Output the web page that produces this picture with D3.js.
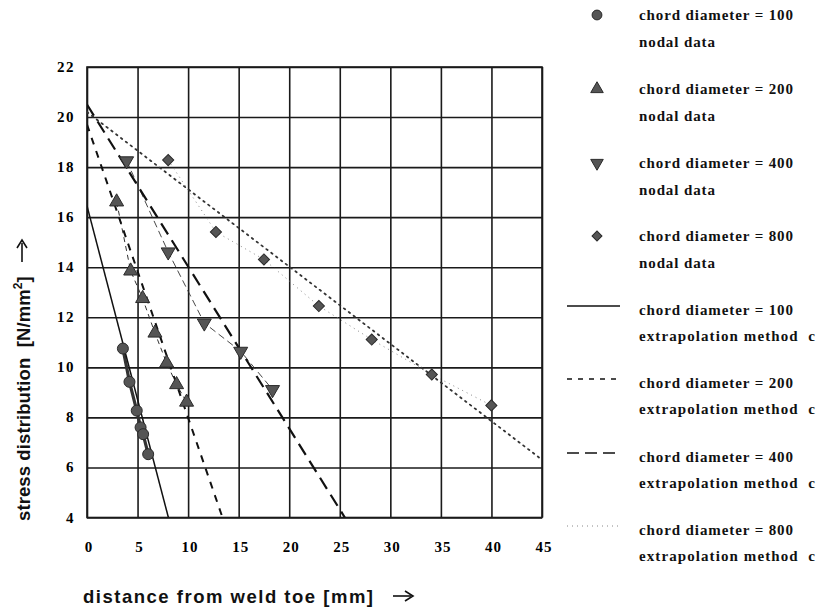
<!DOCTYPE html>
<html><head><meta charset="utf-8">
<script src="https://cdn.jsdelivr.net/npm/d3@7"></script>
<style>
html,body{margin:0;padding:0;background:#fff;}
svg{display:block;}
</style></head>
<body>
<svg id="chart" width="818" height="611"></svg>
<script>
// ---------- data ----------
const xTicks = [0,5,10,15,20,25,30,35,40,45];
const yTicks = [4,6,8,10,12,14,16,18,20,22];

const series = ["chord diameter = 100","chord diameter = 200","chord diameter = 400","chord diameter = 800"];

const nodal100 = [[3.55,10.75],[4.2,9.42],[4.92,8.27],[5.3,7.6],[5.55,7.33],[6.05,6.53]];
const nodal200 = [[2.93,16.61],[4.32,13.85],[5.5,12.75],[6.72,11.37],[7.88,10.17],[8.86,9.31],[9.85,8.61]];
const nodal400 = [[3.92,18.25],[8.03,14.61],[11.6,11.77],[15.2,10.64],[18.35,9.11]];
const nodal800 = [[8.03,18.28],[12.75,15.41],[17.5,14.31],[22.93,12.45],[28.16,11.11],[34.1,9.71],[39.99,8.48]];

const extrap100 = [[0,16.45],[8.05,4]];
const extrap200 = [[0,19.7],[13.4,4]];
const extrap400 = [[0,20.5],[25.5,4]];
const extrap800 = [[0,20.2],[44.7,6.4]];

const legendNodal = ["nodal data","nodal data","nodal data","nodal data"];
const legendExtrap = ["extrapolation method  c","extrapolation method  c","extrapolation method  c","extrapolation method  c"];

// ---------- setup ----------
const svg = d3.select("#chart");
const x = d3.scaleLinear().domain([0,45]).range([87,542]);
const y = d3.scaleLinear().domain([4,22]).range([517.5,67]);

const serif = "'Liberation Serif','Times New Roman',serif";
const sans = "'Liberation Sans',Arial,sans-serif";

// grid
svg.append("g").attr("transform","translate(0,517.5)")
  .call(d3.axisBottom(x).tickValues(xTicks).tickSize(-450.5).tickFormat(""));
svg.append("g").attr("transform","translate(87,0)")
  .call(d3.axisLeft(y).tickValues(yTicks).tickSize(-455).tickFormat(""));
svg.selectAll(".domain").remove();
svg.selectAll(".tick line").attr("stroke","#1a1a1a").attr("stroke-width",1.6);
svg.append("rect").attr("x",x(0)).attr("y",y(22)).attr("width",x(45)-x(0)).attr("height",y(4)-y(22))
  .attr("fill","none").attr("stroke","#1a1a1a").attr("stroke-width",1.6);

// tick labels
svg.append("g").selectAll("text").data(xTicks).join("text")
  .attr("x",d=>x(d)+2).attr("y",552).attr("text-anchor","middle")
  .attr("font-family",serif).attr("font-weight","bold").attr("font-size",15)
  .attr("letter-spacing",1).text(d=>d);
svg.append("g").selectAll("text").data(yTicks).join("text")
  .attr("x",75).attr("y",d=>y(d)+5).attr("text-anchor","end")
  .attr("font-family",serif).attr("font-weight","bold").attr("font-size",15)
  .attr("letter-spacing",1.5).text(d=>d);

// axis titles
svg.append("text").attr("x",83).attr("y",603).attr("font-family",sans).attr("font-weight","bold")
  .attr("font-size",18.5).attr("fill","#111").attr("textLength",290).attr("lengthAdjust","spacing")
  .text("distance from weld toe [mm]");
// x arrow
svg.append("line").attr("x1",393).attr("x2",411).attr("y1",596).attr("y2",596).attr("stroke","#111").attr("stroke-width",1.6);
svg.append("path").attr("d","M405,591 L413,596 L405,601").attr("fill","none").attr("stroke","#111").attr("stroke-width",1.6);

const yt = svg.append("text").attr("transform","translate(30,521) rotate(-90)")
  .attr("font-family",sans).attr("font-weight","bold").attr("font-size",18.5).attr("fill","#111")
  .attr("letter-spacing",0.1).attr("xml:space","preserve");
yt.append("tspan").text("stress distribution  [N/mm");
yt.append("tspan").attr("dy",-8).attr("font-size",12).text("2");
yt.append("tspan").attr("dy",8).text("]");
// y arrow
svg.append("line").attr("x1",22).attr("x2",22).attr("y1",262).attr("y2",243).attr("stroke","#111").attr("stroke-width",1.6);
svg.append("path").attr("d","M17,248 L22,240 L27,248").attr("fill","none").attr("stroke","#111").attr("stroke-width",1.6);

// ---------- lines ----------
const line = d3.line().x(d=>x(d[0])).y(d=>y(d[1]));
svg.append("clipPath").attr("id","pc").append("rect")
  .attr("x",x(0)).attr("y",y(22)).attr("width",x(45)-x(0)).attr("height",y(4)-y(22));
const plot = svg.append("g").attr("clip-path","url(#pc)");

const extrapStyles = [
  {data:extrap100, dash:null, w:1.5, c:"#111"},
  {data:extrap200, dash:"7,7", w:2, c:"#111"},
  {data:extrap400, dash:"13,7", w:2.2, c:"#111"},
  {data:extrap800, dash:"1.6,4.5", w:1.8, c:"#333"}
];
const nodalStyles = [
  {data:nodal100, dash:null, w:3.2, c:"#333"},
  {data:nodal200, dash:"5,4", w:1, c:"#333"},
  {data:nodal400, dash:"7,4", w:0.9, c:"#333"},
  {data:nodal800, dash:"1,4", w:1, c:"#888"}
];
plot.selectAll("path.nl").data(nodalStyles).join("path").attr("class","nl")
  .attr("d",d=>line(d.data)).attr("fill","none").attr("stroke",d=>d.c)
  .attr("stroke-width",d=>d.w).attr("stroke-dasharray",d=>d.dash);
plot.selectAll("path.ex").data(extrapStyles).join("path").attr("class","ex")
  .attr("d",d=>line(d.data)).attr("fill","none").attr("stroke",d=>d.c)
  .attr("stroke-width",d=>d.w).attr("stroke-dasharray",d=>d.dash)
  .attr("stroke-linecap",(d,i)=>i===3?"round":"butt");

// ---------- markers ----------
const symbols = [
  {t:d3.symbolCircle, s:95, r:0},
  {t:d3.symbolTriangle, s:85, r:0},
  {t:d3.symbolTriangle, s:85, r:180},
  {t:d3.symbolSquare, s:62, r:45}
];
const nodalAll = [nodal100,nodal200,nodal400,nodal800];
nodalAll.forEach((pts,i)=>{
  const sym = symbols[i];
  svg.append("g").selectAll("path").data(pts).join("path")
    .attr("d",d3.symbol().type(sym.t).size(sym.s))
    .attr("transform",d=>`translate(${x(d[0])},${y(d[1])}) rotate(${sym.r})`)
    .attr("fill","#555").attr("stroke","#2a2a2a").attr("stroke-width",1);
});

// ---------- legend ----------
const lgTop = [15,89,163,236];
const lgTop2 = [310,383,457,530];
const lg = svg.append("g");
series.forEach((s,i)=>{
  const sym = symbols[i];
  lg.append("path").attr("d",d3.symbol().type(sym.t).size(sym.s*0.8))
    .attr("transform",`translate(597,${lgTop[i]}) rotate(${sym.r})`)
    .attr("fill","#555").attr("stroke","#2a2a2a").attr("stroke-width",1);
  lg.append("text").attr("x",639).attr("y",lgTop[i]+5).attr("textLength",154).text(s);
  lg.append("text").attr("x",639).attr("y",lgTop[i]+32).attr("textLength",76).text(legendNodal[i]);
  lg.append("line").attr("x1",567).attr("x2",620).attr("y1",lgTop2[i]-4).attr("y2",lgTop2[i]-4)
    .attr("stroke",i===3?"#888":"#111").attr("stroke-width",i===3?1:1.4)
    .attr("stroke-dasharray",[null,"5,6","12,6","1,4"][i]);
  lg.append("text").attr("x",639).attr("y",lgTop2[i]+5).attr("textLength",154).text(s);
  lg.append("text").attr("x",639).attr("y",lgTop2[i]+31).attr("textLength",176).text(legendExtrap[i]);
});
lg.selectAll("text").attr("font-family",serif).attr("font-weight","bold").attr("font-size",15).attr("fill","#111")
  .attr("lengthAdjust","spacing").attr("xml:space","preserve");
</script>
</body></html>
